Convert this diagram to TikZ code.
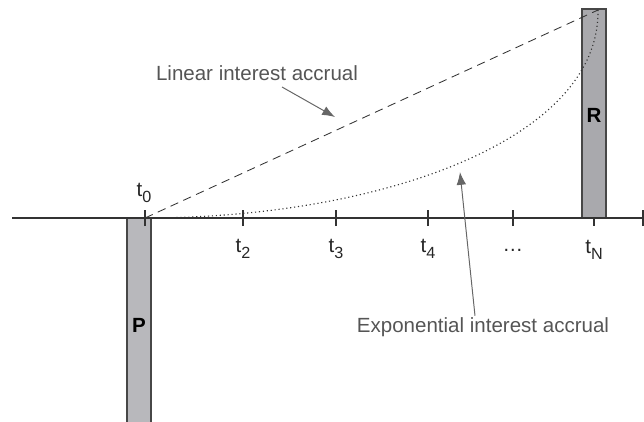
\documentclass[tikz,border=0pt]{standalone}
\usepackage{fontspec}
\setmainfont{Liberation Sans}
\usetikzlibrary{arrows.meta}
\definecolor{bargray}{HTML}{B8B8BC}
\definecolor{bargrayR}{HTML}{A9A9AD}
\definecolor{linegray}{HTML}{333333}
\definecolor{textgray}{HTML}{555555}
\newcommand{\tlab}[1]{t\raisebox{-0.55ex}{\fontsize{11.5}{12}\selectfont #1}}
\tikzset{
  lbl/.style={font=\fontsize{14.6}{16}\selectfont, text=textgray, inner sep=1pt},
  tl/.style={font=\fontsize{14.6}{16}\selectfont, text=black!85, inner sep=1pt},
  bar/.style={fill=#1, draw=linegray!90, line width=0.8pt},
  arr/.style={-{Latex[length=3.2mm, width=2.4mm]}, draw=textgray!90, line width=0.7pt}
}
\begin{document}
\begin{tikzpicture}
\useasboundingbox (0, -5.075) rectangle (16.1, 5.45);
% bars
\draw[bar=bargray] (3.175, 0) rectangle (3.775, -5.3);
\draw[bar=bargrayR] (14.55, 0) rectangle (15.15, 5.225);
\node[font=\fontsize{14.6}{16}\selectfont\bfseries] (P) at (3.475, -2.675) {P};
\node[font=\fontsize{14.6}{16}\selectfont\bfseries] (R) at (14.85, 2.575) {R};
% axis
\draw[linegray, line width=0.8pt] (0.3, 0) -- (16.075, 0);
\foreach \x in {3.625, 6.075, 8.4, 10.7, 12.825, 16.075}
  \draw[linegray, line width=0.8pt] (\x, -0.2) -- (\x, 0.2);
\draw[linegray, line width=0.8pt] (14.85, 0) -- (14.85, -0.2);
% time labels
\node[tl] (t0) at (3.6, 0.62) {\tlab{0}};
\node[tl] (t2) at (6.075, -0.775) {\tlab{2}};
\node[tl] (t3) at (8.4, -0.775) {\tlab{3}};
\node[tl] (t4) at (10.7, -0.775) {\tlab{4}};
\node[tl] (tdots) at (12.825, -0.8) {\dots};
\node[tl] (tN) at (14.85, -0.8) {\tlab{N}};
% growth curves
\coordinate (start) at (3.625, 0);
\coordinate (top) at (14.95, 5.2);
\draw[linegray, dashed, dash pattern=on 6pt off 4pt, line width=0.6pt] (start) -- (top);
\draw[linegray, dotted, line width=0.8pt] (start) .. controls (9.5, 0) and (15.0, 1.95) .. (top);
% labels
\node[lbl] (lin) at (6.425, 3.625) {Linear interest accrual};
\coordinate (linend) at (8.375, 2.525);
\draw[arr] (7.05, 3.275) -- (linend);
\node[lbl] (exp) at (12.075, -2.725) {Exponential interest accrual};
\coordinate (expend) at (11.5, 1.15);
\draw[arr] ([xshift=-0.2cm]exp.north) -- (expend);
\end{tikzpicture}
\end{document}
